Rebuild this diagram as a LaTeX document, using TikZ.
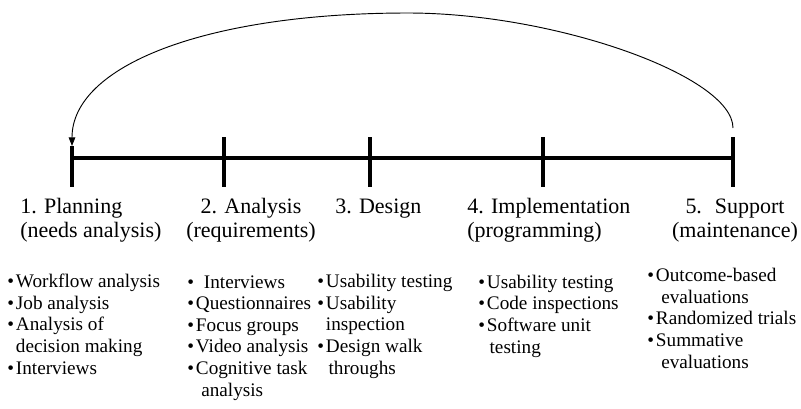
\documentclass[tikz,border=0pt]{standalone}
\usepackage{fontspec}
\setmainfont{Liberation Serif}
\usetikzlibrary{arrows.meta}

\newcommand{\itm}{\textbullet\hspace{1.5pt}}
\newcommand{\cont}{\phantom{\textbullet}\hspace{1.5pt}}

\begin{document}
\begin{tikzpicture}[x=0.75pt,y=-0.75pt,
    phase/.style={inner sep=0pt, font=\fontsize{16.5}{18}\selectfont},
    tasks/.style={inner sep=0pt, align=left, anchor=base west,
        font=\fontsize{14.4}{16.2}\selectfont}]
    \useasboundingbox (0,0) rectangle (801,408);

    % time line
    \coordinate (t1) at (72,158);
    \coordinate (t2) at (224,158);
    \coordinate (t3) at (370,158);
    \coordinate (t4) at (543,158);
    \coordinate (t5) at (733,158);
    \coordinate (a1) at (72,146);
    \draw[line width=2.5pt] (t1) -- (t5);
    \foreach \t in {t2,t3,t4,t5}
    \draw[line width=2.5pt] (\t) ++(0,-21) -- ++(0,50);
    \draw[line width=2.5pt] (a1) -- ++(0,41);

    % feedback arc
    \coordinate (a5) at (733,128);
    \coordinate (top) at (408,13);
    \draw[line width=0.7pt, -{Triangle[length=6.5pt,width=5pt]}]
        (a5) .. controls (733,76) and (555,13) .. (top)
        .. controls (205,13) and (72,66) .. (a1);

    % phases (anchored at the baseline of the last line)
    \node[phase, align=left, anchor=base west] (p1) at (20,237)
        {1. Planning\\(needs analysis)};
    \node[phase, align=center, anchor=base] (p2) at (251,237)
        {2. Analysis\\(requirements)};
    \node[phase, anchor=base west] (p3) at (335,213) {3. Design};
    \node[phase, align=left, anchor=base west] (p4) at (467,237)
        {4. Implementation\\(programming)};
    \node[phase, align=center, anchor=base] (p5) at (735,237)
        {5.~ Support\\(maintenance)};

    % methods per phase
    \node[tasks] (l1) at (7,374) {\itm Workflow analysis\\
        \itm Job analysis\\
        \itm Analysis of\\
        \cont decision making\\
        \itm Interviews};
    \node[tasks] (l2) at (187,396) {\itm\, Interviews\\
        \itm Questionnaires\\
        \itm Focus groups\\
        \itm Video analysis\\
        \itm Cognitive task\\
        \cont\hspace{4pt}analysis};
    \node[tasks] (l3) at (317,374) {\itm Usability testing\\
        \itm Usability\\
        \cont inspection\\
        \itm Design walk\\
        \cont\hspace{2pt}throughs};
    \node[tasks] (l4) at (478,353) {\itm Usability testing\\
        \itm Code inspections\\
        \itm Software unit\\
        \cont\hspace{2pt}testing};
    \node[tasks] (l5) at (647,368) {\itm Outcome-based\\
        \cont\hspace{4pt}evaluations\\
        \itm Randomized trials\\
        \itm Summative\\
        \cont\hspace{4pt}evaluations};
\end{tikzpicture}
\end{document}
